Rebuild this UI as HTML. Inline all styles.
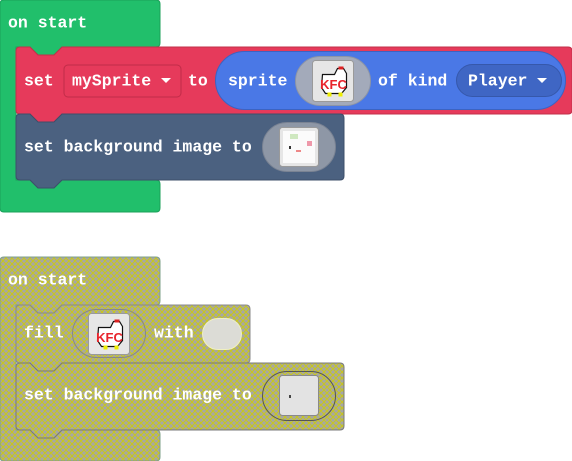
<!DOCTYPE html>
<html><head><meta charset="utf-8"><style>
html,body{margin:0;padding:0;background:#fff;width:572px;height:461px;overflow:hidden}
svg text{font-family:"Liberation Mono",monospace;font-weight:bold;font-size:16.5px;fill:#fff;dominant-baseline:central}
</style></head><body>
<svg width="572" height="461" viewBox="0 0 572 461" xmlns="http://www.w3.org/2000/svg">
<defs>
<pattern id="h" width="6" height="6" patternUnits="userSpaceOnUse">
<rect width="6" height="6" fill="#a7a7a2"/>
<path d="M-1,1 L1,-1 M0,6 L6,0 M5,7 L7,5 M-1,5 L1,7 M0,0 L6,6 M5,-1 L7,1" stroke="#c9c81a" stroke-width="1"/>
</pattern>
<g id="kfc">
<rect x="0" y="0" width="41" height="41" rx="3" fill="#e6e6e6" stroke="#9a9a9a"/>
<path d="M10,14 h12 l3,-6 h6 l3,5 v14 l-5,6 h-16 l-4,-6 z" fill="#fff" stroke="#111" stroke-width="1.2"/>
<rect x="26" y="6" width="5" height="3" fill="#d22"/>
<rect x="15" y="32" width="4" height="4" fill="#ee0"/><rect x="26" y="32" width="4" height="4" fill="#ee0"/>
<text x="21" y="24" text-anchor="middle" style="font-size:13px;fill:#e8242c;font-family:'Liberation Sans',sans-serif">KFC</text>
</g>
</defs>

<!-- top green hat -->
<path d="M0,4 Q0,0 4,0 H156 Q160,0 160,4 V43 Q160,47 156,47 H62 L54,55 H38 L30,47 H16 V180 H30 L38,188 H54 L62,180 H156 Q160,180 160,184 V208 Q160,212 156,212 H4 Q0,212 0,208 Z" fill="#21bf6b" stroke="#1ba05a"/>
<text x="8" y="23">on start</text>

<!-- red set block -->
<path d="M20,47 H30 L38,55 H54 L62,47 H568 Q572,47 572,51 V110 Q572,114 568,114 H62 L54,122 H38 L30,114 H20 Q16,114 16,110 V51 Q16,47 20,47 Z" fill="#e63a5b" stroke="#c23049"/>
<text x="24" y="81">set</text>
<rect x="64" y="65" width="117" height="32" rx="4" fill="#e63a5b" stroke="#c02c48"/>
<text x="72" y="81">mySprite</text>
<path d="M161,78 h10 l-5,5 z" fill="#fff"/>
<text x="188" y="81">to</text>
<rect x="215.5" y="51.5" width="350" height="58" rx="29" fill="#4a78e6" stroke="#3c63c2"/>
<text x="228" y="81">sprite</text>
<rect x="295.5" y="56.5" width="75" height="49" rx="24.5" fill="#a3aaba" stroke="#8d95a6"/>
<use href="#kfc" x="312.5" y="60.5"/>
<text x="378" y="81">of kind</text>
<rect x="456.5" y="64.5" width="105" height="32" rx="16" fill="#3f66c4" stroke="#3658ab"/>
<text x="468" y="81">Player</text>
<path d="M537,78 h10 l-5,5 z" fill="#fff"/>

<!-- slate bg block -->
<path d="M20,114 H30 L38,122 H54 L62,114 H340 Q344,114 344,118 V176 Q344,180 340,180 H62 L54,188 H38 L30,180 H20 Q16,180 16,176 V118 Q16,114 20,114 Z" fill="#4b6180" stroke="#3d4f6a"/>
<text x="24" y="147">set background image to</text>
<rect x="262.5" y="122.5" width="73" height="49" rx="24.5" fill="#8e97a6" stroke="#7a8393"/>
<rect x="279.5" y="127.5" width="39" height="39" rx="3" fill="#e6e6e6" stroke="#9a9a9a"/>
<rect x="283" y="131" width="32" height="32" fill="#fbfbfb"/>
<rect x="289" y="146" width="2" height="3" fill="#333"/>
<rect x="307" y="141" width="5" height="5" fill="#e9a"/>
<rect x="296" y="150" width="5" height="2" fill="#e88"/>
<rect x="290" y="134" width="8" height="5" fill="#cfe8c0"/>

<!-- bottom hatched hat -->
<path d="M0,261 Q0,257 4,257 H156 Q160,257 160,261 V301 Q160,305 156,305 H62 L54,313 H38 L30,305 H16 V430 H30 L38,438 H54 L62,430 H156 Q160,430 160,434 V457 Q160,461 156,461 H4 Q0,461 0,457 Z" fill="url(#h)" stroke="#7fa08a"/>
<text x="8" y="280">on start</text>

<!-- fill block -->
<path d="M20,305 H30 L38,313 H54 L62,305 H246 Q250,305 250,309 V359 Q250,363 246,363 H62 L54,371 H38 L30,363 H20 Q16,363 16,359 V309 Q16,305 20,305 Z" fill="url(#h)" stroke="#8a8a88"/>
<text x="24" y="333">fill</text>
<rect x="72.5" y="309.5" width="73" height="48" rx="24" fill="url(#h)" stroke="#888"/>
<use href="#kfc" x="88.5" y="313.5"/>
<text x="154" y="333">with</text>
<rect x="202.5" y="318.5" width="39" height="31" rx="15.5" fill="#dcdcd6" stroke="#f0f0c0"/>

<!-- bg block hatched -->
<path d="M20,363 H30 L38,371 H54 L62,363 H340 Q344,363 344,367 V426 Q344,430 340,430 H62 L54,438 H38 L30,430 H20 Q16,430 16,426 V367 Q16,363 20,363 Z" fill="url(#h)" stroke="#7a7a78"/>
<text x="24" y="395">set background image to</text>
<rect x="262.5" y="371.5" width="73" height="49" rx="24.5" fill="url(#h)" stroke="#555"/>
<rect x="279.5" y="375.5" width="39" height="40" rx="3" fill="#e3e3e3" stroke="#8a8a8a"/>
<rect x="289" y="395" width="2" height="3" fill="#444"/>
</svg>
</body></html>
